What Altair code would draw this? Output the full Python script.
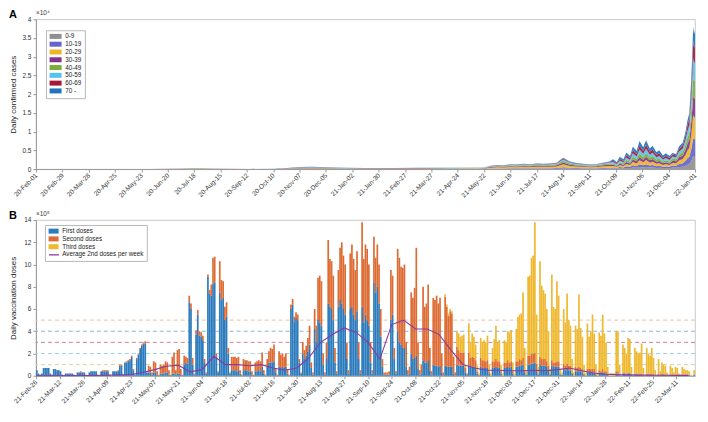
import altair as alt
import pandas as pd

FONT = "Liberation Sans"
W = 660
HA = 150
HB = 156

# ---------------- Panel A: daily confirmed cases by age group ----------------
case_dates = [
    "2020-02-01", "2020-04-01", "2020-06-01", "2020-07-05", "2020-07-15", "2020-07-25", "2020-08-05",
    "2020-09-15", "2020-10-10", "2020-10-25", "2020-11-07", "2020-11-20", "2020-12-05", "2020-12-25",
    "2021-01-15", "2021-02-15", "2021-03-15", "2021-04-15", "2021-05-15", "2021-05-22",
    "2021-05-29", "2021-06-05", "2021-06-12", "2021-06-19", "2021-06-26", "2021-07-03", "2021-07-10",
    "2021-07-17", "2021-07-24", "2021-07-31", "2021-08-07", "2021-08-14", "2021-08-21", "2021-08-28",
    "2021-09-04", "2021-09-11", "2021-09-18", "2021-09-25", "2021-10-02",
    "2021-10-06", "2021-10-10", "2021-10-13", "2021-10-17", "2021-10-20", "2021-10-24", "2021-10-27",
    "2021-10-31", "2021-11-03", "2021-11-07", "2021-11-10", "2021-11-14", "2021-11-17", "2021-11-21",
    "2021-11-24", "2021-11-28", "2021-12-01", "2021-12-05",
    "2021-12-08", "2021-12-12", "2021-12-15", "2021-12-19", "2021-12-22", "2021-12-24", "2021-12-26",
    "2021-12-28", "2021-12-29", "2021-12-30", "2021-12-31", "2022-01-01",
]
age_groups = ["0-9", "10-19", "20-29", "30-39", "40-49", "50-59", "60-69", "70 -"]
age_colors = ["#8f8f8f", "#6464cc", "#efb526", "#86338f", "#7aae35", "#55c2ef", "#a5183a", "#1f74bc"]

cases_0_9 = [2, 2, 2, 3, 10, 10, 3, 2, 4, 15, 28, 30, 22, 18, 15, 15, 16, 18, 19, 21,
             54, 66, 60, 78, 72, 84, 78, 90, 84, 90, 102, 180, 120, 96, 84, 72, 78, 102, 120,
             182, 133, 231, 182, 308, 245, 420, 336, 525, 406, 539, 385, 434, 315, 350, 252, 294, 245,
             387, 360, 540, 630, 900, 1170, 1350, 2160, 2700, 3420, 3240, 3330]
cases_10_19 = [2, 2, 3, 4, 14, 14, 4, 3, 6, 21, 38, 42, 32, 24, 21, 21, 22, 24, 27, 29,
               90, 110, 100, 130, 120, 140, 130, 150, 140, 150, 170, 300, 200, 160, 140, 120, 130, 170, 200,
               260, 190, 330, 260, 440, 350, 600, 480, 750, 580, 770, 550, 620, 450, 500, 360, 420, 350,
               559, 520, 780, 910, 1300, 1690, 1950, 3120, 3900, 4940, 4680, 4810]
cases_20_29 = [6, 6, 8, 11, 38, 38, 11, 8, 15, 57, 104, 114, 86, 66, 57, 57, 61, 66, 72, 80,
               234, 286, 260, 338, 312, 364, 338, 390, 364, 390, 442, 780, 520, 416, 364, 312, 338, 442, 520,
               364, 266, 462, 364, 616, 490, 840, 672, 1050, 812, 1078, 770, 868, 630, 700, 504, 588, 490,
               688, 640, 960, 1120, 1600, 2080, 2400, 3840, 4800, 6080, 5760, 5920]
cases_30_39 = [4, 4, 6, 8, 28, 28, 8, 6, 11, 42, 77, 84, 63, 49, 42, 42, 45, 49, 53, 59,
               153, 187, 170, 221, 204, 238, 221, 255, 238, 255, 289, 510, 340, 272, 238, 204, 221, 289, 340,
               312, 228, 396, 312, 528, 420, 720, 576, 900, 696, 924, 660, 744, 540, 600, 432, 504, 420,
               602, 560, 840, 980, 1400, 1820, 2100, 3360, 4200, 5320, 5040, 5180]
cases_40_49 = [5, 5, 6, 9, 30, 30, 9, 6, 12, 45, 83, 90, 68, 53, 45, 45, 48, 53, 57, 63,
               135, 165, 150, 195, 180, 210, 195, 225, 210, 225, 255, 450, 300, 240, 210, 180, 195, 255, 300,
               338, 247, 429, 338, 572, 455, 780, 624, 975, 754, 1001, 715, 806, 585, 650, 468, 546, 455,
               559, 520, 780, 910, 1300, 1690, 1950, 3120, 3900, 4940, 4680, 4810]
cases_50_59 = [5, 5, 6, 10, 32, 32, 10, 6, 13, 48, 88, 96, 72, 56, 48, 48, 51, 56, 61, 67,
               108, 132, 120, 156, 144, 168, 156, 180, 168, 180, 204, 360, 240, 192, 168, 144, 156, 204, 240,
               364, 266, 462, 364, 616, 490, 840, 672, 1050, 812, 1078, 770, 868, 630, 700, 504, 588, 490,
               559, 520, 780, 910, 1300, 1690, 1950, 3120, 3900, 4940, 4680, 4810]
cases_60_69 = [4, 4, 5, 8, 26, 26, 8, 5, 10, 39, 72, 78, 58, 46, 39, 39, 42, 46, 49, 55,
               72, 88, 80, 104, 96, 112, 104, 120, 112, 120, 136, 240, 160, 128, 112, 96, 104, 136, 160,
               364, 266, 462, 364, 616, 490, 840, 672, 1050, 812, 1078, 770, 868, 630, 700, 504, 588, 490,
               516, 480, 720, 840, 1200, 1560, 1800, 2880, 3600, 4560, 4320, 4440]
cases_70_up = [3, 3, 4, 7, 22, 22, 7, 4, 9, 33, 61, 66, 50, 39, 33, 33, 35, 39, 42, 46,
               54, 66, 60, 78, 72, 84, 78, 90, 84, 90, 102, 180, 120, 96, 84, 72, 78, 102, 120,
               416, 304, 528, 416, 704, 560, 960, 768, 1200, 928, 1232, 880, 992, 720, 800, 576, 672, 560,
               430, 400, 600, 700, 1000, 1300, 1500, 2400, 3000, 3800, 3600, 3700]

a_ticks = ["2020-02-01", "2020-02-29", "2020-03-28", "2020-04-25", "2020-05-23", "2020-06-20",
           "2020-07-18", "2020-08-15", "2020-09-12", "2020-10-10", "2020-11-07", "2020-12-05",
           "2021-01-02", "2021-01-30", "2021-02-27", "2021-03-27", "2021-04-24", "2021-05-22",
           "2021-06-19", "2021-07-17", "2021-08-14", "2021-09-11", "2021-10-09", "2021-11-06",
           "2021-12-04", "2022-01-01"]
a_yticks = [0, 0.5, 1, 1.5, 2, 2.5, 3, 3.5, 4]

# ---------------- Panel B: daily vaccination doses (units of 10^4) ----------------
vacc_start = "2021-02-26"
first_doses = [
    5, 2, 1,
    2, 7, 7, 7, 7, 2, 1,
    6, 6, 5, 5, 4, 1, 0,
    2, 2, 2, 2, 2, 1, 0,
    3, 3, 3, 3, 3, 1, 0,
    3, 4, 4, 4, 4, 1, 0,
    4, 4, 4, 4, 4, 1, 0,
    4, 4, 4, 4, 9, 9, 1,
    12, 12, 13, 14, 17, 5, 1,
    15, 19, 24, 27, 29, 29, 3,
    3, 3, 1, 3, 3, 1, 0,
    2, 2, 2, 3, 3, 1, 0,
    2, 2, 1, 2, 2, 1, 0,
    10, 12, 11, 66, 60, 10, 1,
    37, 55, 36, 35, 32, 12, 2,
    89, 74, 72, 83, 84, 17, 3,
    75, 68, 70, 50, 53, 20, 2,
    5, 5, 5, 4, 5, 2, 0,
    5, 5, 5, 4, 4, 1, 0,
    4, 4, 5, 4, 8, 2, 0,
    8, 12, 12, 12, 13, 3, 0,
    8, 7, 8, 7, 8, 2, 0,
    60, 64, 49, 52, 50, 12, 2,
    20, 15, 18, 22, 28, 7, 1,
    42, 30, 50, 48, 45, 10, 1,
    15, 65, 62, 60, 50, 12, 2,
    62, 68, 65, 60, 55, 15, 2,
    60, 62, 55, 50, 58, 15, 2,
    62, 48, 55, 50, 45, 12, 2,
    84, 75, 80, 65, 35, 8, 1,
    1, 1, 1, 50, 55, 15, 2,
    40, 30, 28, 25, 25, 8, 1,
    2, 20, 15, 16, 18, 6, 1,
    2, 14, 12, 12, 14, 5, 1,
    10, 9, 9, 8, 9, 3, 0,
    9, 8, 8, 8, 8, 2, 0,
    10, 9, 9, 9, 9, 3, 1,
    9, 8, 8, 8, 7, 2, 0,
    8, 7, 7, 7, 7, 2, 0,
    7, 7, 8, 7, 7, 2, 0,
    7, 7, 8, 7, 8, 2, 0,
    8, 8, 9, 9, 10, 3, 1,
    10, 10, 11, 11, 12, 5, 1,
    10, 9, 9, 9, 8, 5, 1,
    9, 8, 8, 8, 8, 1, 1,
    6, 5, 6, 5, 5, 2, 0,
    4, 4, 4, 4, 3, 1, 0,
    3, 3, 3, 3, 3, 1, 0,
    3, 2, 3, 2, 2, 1, 0,
    0, 0, 0, 2, 2, 1, 0,
    2, 2, 1, 2, 2, 1, 0,
    1, 1, 1, 1, 1, 0, 0,
    1, 1, 1, 1, 1, 0, 0,
    1, 0, 1, 1, 1, 0, 0,
    1, 1, 0, 1, 1, 0, 0,
    1, 1, 1, 1, 1, 0, 0,
    1,
]
second_doses = [
    0, 0, 0,
    0, 0, 0, 0, 0, 0, 0,
    0, 0, 0, 0, 0, 0, 0,
    0, 0, 0, 0, 0, 0, 0,
    0, 0, 1, 0, 0, 0, 0,
    0, 0, 0, 0, 0, 0, 0,
    0, 1, 1, 1, 1, 0, 0,
    0, 0, 0, 1, 1, 1, 0,
    0, 1, 1, 1, 1, 1, 0,
    1, 1, 1, 1, 1, 2, 0,
    6, 5, 2, 10, 9, 3, 1,
    8, 7, 8, 10, 9, 4, 1,
    15, 19, 4, 21, 22, 5, 1,
    8, 5, 5, 6, 5, 6, 1,
    4, 4, 4, 4, 4, 3, 1,
    2, 3, 10, 23, 23, 3, 1,
    28, 18, 15, 12, 13, 5, 1,
    12, 12, 12, 12, 12, 3, 1,
    10, 9, 9, 9, 9, 3, 1,
    8, 9, 9, 9, 13, 3, 1,
    7, 10, 13, 12, 15, 4, 1,
    14, 12, 12, 10, 12, 4, 1,
    4, 5, 4, 5, 5, 3, 1,
    10, 8, 9, 12, 17, 5, 2,
    18, 15, 38, 42, 40, 10, 2,
    15, 57, 43, 43, 40, 13, 2,
    33, 47, 55, 48, 45, 15, 3,
    50, 56, 50, 45, 54, 15, 3,
    76, 57, 63, 64, 55, 18, 3,
    41, 31, 38, 35, 25, 7, 2,
    2, 2, 3, 45, 35, 10, 2,
    74, 76, 70, 72, 75, 22, 4,
    6, 55, 55, 63, 97, 24, 4,
    8, 66, 50, 53, 68, 20, 3,
    60, 59, 63, 57, 61, 17, 3,
    62, 54, 46, 50, 48, 15, 3,
    16, 14, 12, 12, 12, 4, 1,
    12, 8, 9, 8, 7, 2, 1,
    8, 7, 7, 6, 7, 2, 0,
    6, 6, 7, 6, 6, 2, 0,
    5, 5, 6, 5, 5, 2, 0,
    5, 5, 6, 5, 6, 2, 0,
    8, 8, 9, 9, 9, 6, 1,
    7, 6, 6, 6, 5, 4, 1,
    5, 4, 4, 5, 5, 1, 0,
    5, 4, 5, 4, 4, 1, 0,
    4, 3, 4, 3, 3, 1, 0,
    3, 3, 3, 3, 3, 1, 0,
    2, 2, 3, 2, 2, 1, 0,
    0, 0, 0, 2, 2, 1, 0,
    1, 1, 1, 1, 1, 0, 0,
    1, 1, 1, 1, 1, 0, 0,
    1, 1, 1, 1, 1, 0, 0,
    1, 0, 1, 1, 0, 0, 0,
    0, 0, 0, 0, 0, 0, 0,
    0, 0, 0, 0, 0, 0, 0,
    0,
]
third_doses = [
    0, 0, 0,
    0, 0, 0, 0, 0, 0, 0,
    0, 0, 0, 0, 0, 0, 0,
    0, 0, 0, 0, 0, 0, 0,
    0, 0, 0, 0, 0, 0, 0,
    0, 0, 0, 0, 0, 0, 0,
    0, 0, 0, 0, 0, 0, 0,
    0, 0, 0, 0, 0, 0, 0,
    0, 0, 0, 0, 0, 0, 0,
    0, 0, 0, 0, 0, 0, 0,
    0, 0, 0, 0, 0, 0, 0,
    0, 0, 0, 0, 0, 0, 0,
    0, 0, 0, 0, 0, 0, 0,
    0, 0, 0, 0, 0, 0, 0,
    0, 0, 0, 0, 0, 0, 0,
    0, 0, 0, 0, 0, 0, 0,
    0, 0, 0, 0, 0, 0, 0,
    0, 0, 0, 0, 0, 0, 0,
    0, 0, 0, 0, 0, 0, 0,
    0, 0, 0, 0, 0, 0, 0,
    0, 0, 0, 0, 0, 0, 0,
    0, 0, 0, 0, 0, 0, 0,
    0, 0, 0, 0, 0, 0, 0,
    0, 0, 0, 0, 0, 0, 0,
    0, 0, 0, 0, 0, 0, 0,
    0, 0, 0, 0, 0, 0, 0,
    0, 0, 0, 0, 0, 0, 0,
    0, 0, 0, 0, 0, 0, 0,
    0, 0, 0, 0, 0, 0, 0,
    0, 0, 0, 0, 0, 0, 0,
    0, 0, 0, 0, 0, 0, 0,
    0, 0, 0, 0, 0, 0, 0,
    0, 0, 0, 0, 0, 0, 0,
    0, 0, 0, 0, 0, 0, 0,
    0, 0, 0, 0, 0, 0, 0,
    2, 2, 2, 2, 2, 1, 0,
    14, 15, 14, 15, 16, 3, 0,
    26, 14, 21, 19, 14, 5, 1,
    18, 16, 18, 17, 22, 6, 2,
    12, 20, 30, 17, 19, 6, 2,
    20, 18, 26, 27, 28, 8, 2,
    29, 40, 40, 42, 59, 20, 3,
    71, 72, 86, 88, 117, 44, 6,
    86, 66, 62, 59, 47, 31, 4,
    77, 50, 48, 72, 59, 4, 2,
    49, 39, 63, 41, 36, 12, 3,
    37, 35, 65, 36, 29, 8, 2,
    41, 29, 34, 49, 32, 8, 2,
    34, 32, 49, 34, 26, 6, 1,
    2, 2, 2, 36, 36, 8, 1,
    25, 22, 18, 31, 30, 7, 1,
    23, 20, 18, 19, 27, 7, 1,
    23, 18, 16, 23, 14, 5, 1,
    13, 4, 10, 8, 8, 3, 1,
    8, 6, 3, 7, 6, 2, 1,
    7, 5, 4, 4, 3, 1, 0,
    4,
]
assert len(first_doses) == len(second_doses) == len(third_doses) == 389, (
    len(first_doses), len(second_doses), len(third_doses))

dose_names = ["First doses", "Second doses", "Third doses"]
dose_colors = ["#2b7bbd", "#de6b33", "#efb82f"]

avg2_name = "Average 2nd doses per week"
avg2_color = "#8a3a9e"
avg2_dates = ["2021-02-26", "2021-04-02", "2021-04-23", "2021-04-30", "2021-05-07", "2021-05-14",
              "2021-05-21", "2021-05-28", "2021-06-04", "2021-06-11", "2021-06-18", "2021-06-25",
              "2021-07-02", "2021-07-09", "2021-07-16", "2021-07-23", "2021-07-30", "2021-08-06",
              "2021-08-13", "2021-08-20", "2021-08-27", "2021-09-03", "2021-09-10", "2021-09-17",
              "2021-09-24", "2021-10-01", "2021-10-08", "2021-10-15", "2021-10-22", "2021-10-29",
              "2021-11-05", "2021-11-12", "2021-11-19", "2021-11-26", "2021-12-03", "2021-12-10",
              "2021-12-17", "2021-12-24", "2021-12-31", "2022-01-07", "2022-01-14", "2022-01-21",
              "2022-01-28", "2022-02-04", "2022-02-11", "2022-02-18", "2022-02-25", "2022-03-04",
              "2022-03-11", "2022-03-18"]
avg2_values = [0.0, 0.02, 0.1, 0.3, 0.55, 0.85, 0.95, 0.35, 0.55, 1.75, 1.0, 1.0,
               0.9, 1.0, 0.7, 0.5, 0.7, 1.6, 3.0, 3.7, 4.3, 3.9, 3.0, 1.5,
               4.6, 5.0, 4.2, 4.2, 3.7, 2.3, 1.0, 0.7, 0.5, 0.5, 0.45, 0.45,
               0.5, 0.45, 0.55, 0.7, 0.45, 0.25, 0.15, 0.1, 0.08, 0.06, 0.05, 0.04,
               0.03, 0.03]

ref_levels = [1, 2, 3, 4, 5]
ref_colors = ["#d6d69a", "#9fd3e6", "#d27f95", "#86b3dd", "#ebc3a0"]

b_ticks = ["2021-02-26", "2021-03-12", "2021-03-26", "2021-04-09", "2021-04-23", "2021-05-07",
           "2021-05-21", "2021-06-04", "2021-06-18", "2021-07-02", "2021-07-16", "2021-07-30",
           "2021-08-13", "2021-08-27", "2021-09-10", "2021-09-24", "2021-10-08", "2021-10-22",
           "2021-11-05", "2021-11-19", "2021-12-03", "2021-12-17", "2021-12-31", "2022-01-14",
           "2022-01-28", "2022-02-11", "2022-02-25", "2022-03-11"]
b_domain = ["2021-02-26", "2022-03-22"]
b_yticks = [0, 2, 4, 6, 8, 10, 12, 14]


def ms(s):
    return int(pd.Timestamp(s, tz="UTC").timestamp() * 1000)


# ---------------- build tables ----------------
age_series = [cases_0_9, cases_10_19, cases_20_29, cases_30_39,
              cases_40_49, cases_50_59, cases_60_69, cases_70_up]
rowsA = []
for gi, (g, vals) in enumerate(zip(age_groups, age_series)):
    assert len(vals) == len(case_dates), (g, len(vals))
    for d, v in zip(case_dates, vals):
        rowsA.append({"date": d, "age": g, "order": gi, "cases": v})
dfA = pd.DataFrame(rowsA)

days = pd.date_range(vacc_start, periods=len(first_doses), freq="D")
rowsB = []
for di, (name, vals) in enumerate(zip(dose_names, [first_doses, second_doses, third_doses])):
    for day, v in zip(days, vals):
        rowsB.append({"date": day.strftime("%Y-%m-%d"),
                      "date_end": (day + pd.Timedelta(days=1)).strftime("%Y-%m-%d"),
                      "dose": name, "order": di, "doses": v})
dfB = pd.DataFrame(rowsB)
dfL = pd.DataFrame({"date": avg2_dates, "value": avg2_values, "series": avg2_name})

LBL = "utcFormat(datum.value, '%y-%b-%d')"
# legend swatch paths (Vega scales custom paths by sqrt(size)/2 per unit)
RECT_A = "M-1,-1H3.8V1H-1Z"
RECT_B = "M-1,-1H3V1H-1Z"
LINE_B = "M-1,0H3"
LEG_FONT = 6.3


def header(letter, exponent):
    """Panel letter and axis exponent, placed just above the plot's top-left corner."""
    lab = alt.Chart(pd.DataFrame({"t": [letter]})).mark_text(
        align="left", baseline="bottom", fontSize=11, fontWeight="bold", font=FONT,
        color="#000").encode(x=alt.value(-27), y=alt.value(1), text="t:N")
    exp = alt.Chart(pd.DataFrame({"t": [exponent]})).mark_text(
        align="left", baseline="bottom", fontSize=6.5, font=FONT, color="#444").encode(
        x=alt.value(0), y=alt.value(-3), text="t:N")
    return [lab, exp]


def x_axis(values):
    return alt.Axis(values=[ms(t) for t in values], labelExpr=LBL, labelAngle=315,
                    labelAlign="right", labelBaseline="middle", labelOverlap=False,
                    labelColor="#333", title=None)


# ---------------- Panel A chart ----------------
xA = alt.X("date:T",
           scale=alt.Scale(type="utc", domain=[ms(a_ticks[0]), ms(a_ticks[-1])]),
           axis=x_axis(a_ticks))
yA = alt.Y("y:Q", stack="zero",
           scale=alt.Scale(domain=[0, 4], nice=False),
           axis=alt.Axis(values=a_yticks, format="~g", title="Daily confirmed cases",
                         minExtent=15, maxExtent=15, titlePadding=3))
areaA = alt.Chart(dfA).transform_calculate(y="datum.cases / 10000").mark_area(
    opacity=0.92, interpolate="linear").encode(
    x=xA, y=yA,
    color=alt.Color("age:N", scale=alt.Scale(domain=age_groups, range=age_colors),
                    legend=alt.Legend(title=None, orient="none", legendX=10, legendY=11,
                                      symbolType=RECT_A, symbolSize=25, symbolOpacity=1,
                                      symbolStrokeWidth=0,
                                      labelFontSize=LEG_FONT, labelOffset=10, rowPadding=0.8,
                                      padding=3, strokeColor="#b8b8b8", fillColor="white",
                                      labelFont=FONT, labelColor="#222")),
    order=alt.Order("order:Q", sort="ascending"),
)
chartA = alt.layer(areaA, *header("A", "×10⁴")).properties(width=W, height=HA)

# ---------------- Panel B chart ----------------
xB_scale = alt.Scale(type="utc", domain=[ms(b_domain[0]), ms(b_domain[1])])
xB_axis = x_axis(b_ticks)
yB_axis = alt.Axis(values=b_yticks, format="d", title="Daily vaccination doses",
                   minExtent=15, maxExtent=15, titlePadding=3)
yB_scale = alt.Scale(domain=[0, 14], nice=False)

rule_layers = [
    alt.Chart(pd.DataFrame({"level": [lvl]})).mark_rule(
        strokeDash=[4, 3], strokeWidth=1, color=col).encode(
        y=alt.Y("level:Q", scale=yB_scale, axis=yB_axis))
    for lvl, col in zip(ref_levels, ref_colors)
]
bars = alt.Chart(dfB).transform_calculate(v="datum.doses / 10").transform_stack(
    stack="v", as_=["v0", "v1"], groupby=["date"],
    sort=[alt.SortField("order", order="ascending")]).mark_bar().encode(
    x=alt.X("date:T", scale=xB_scale, axis=xB_axis),
    x2="date_end:T",
    y=alt.Y("v0:Q", scale=yB_scale, axis=yB_axis),
    y2="v1:Q",
    fill=alt.Fill("dose:N",
                  scale=alt.Scale(domain=dose_names + [avg2_name],
                                  range=dose_colors + ["transparent"]),
                  legend=alt.Legend(title=None, orient="none", legendX=9, legendY=5,
                                    symbolType=RECT_B, symbolSize=25, symbolStrokeWidth=0,
                                    labelFontSize=LEG_FONT, labelOffset=8, rowPadding=0.8,
                                    padding=3, strokeColor="#b8b8b8", fillColor="white",
                                    labelFont=FONT, labelColor="#222", zindex=1)),
)
# the line's legend is laid over the bar legend, row for row; only its 4th swatch is visible
line_slots = ["_", "__", "___", avg2_name]
line = alt.Chart(dfL).mark_line(strokeWidth=1.1).encode(
    x=alt.X("date:T", scale=xB_scale, axis=xB_axis),
    y=alt.Y("value:Q", scale=yB_scale, axis=yB_axis),
    stroke=alt.Stroke("series:N",
                      scale=alt.Scale(domain=line_slots,
                                      range=["transparent", "transparent", "transparent",
                                             avg2_color]),
                      legend=alt.Legend(title=None, orient="none", legendX=9, legendY=5,
                                        symbolType=LINE_B, symbolSize=25, symbolStrokeWidth=1.3,
                                        labelExpr="' '",
                                        labelFontSize=LEG_FONT, labelOffset=8, rowPadding=0.8,
                                        labelFont=FONT, labelColor="transparent",
                                        padding=3, zindex=2)),
)
chartB = alt.layer(*rule_layers, bars, line, *header("B", "×10⁵")).properties(width=W, height=HB)

chart = alt.vconcat(chartA, chartB, spacing=10).resolve_scale(
    color="independent", fill="independent", stroke="independent"
).resolve_legend(
    color="independent", fill="independent", stroke="independent"
).properties(
    padding={"left": 0, "top": 0, "right": 2, "bottom": 0}
).configure_view(stroke="#bdbdbd", strokeWidth=0.8).configure_axis(
    labelFont=FONT, titleFont=FONT, labelFontSize=6.5, titleFontSize=8,
    labelColor="#333", titleColor="#222", titleFontWeight="normal",
    domainColor="#9a9a9a", tickColor="#9a9a9a", tickSize=3, grid=False, labelPadding=2,
)

chart.save("out.html", embed_options={"renderer": "svg", "actions": False})
